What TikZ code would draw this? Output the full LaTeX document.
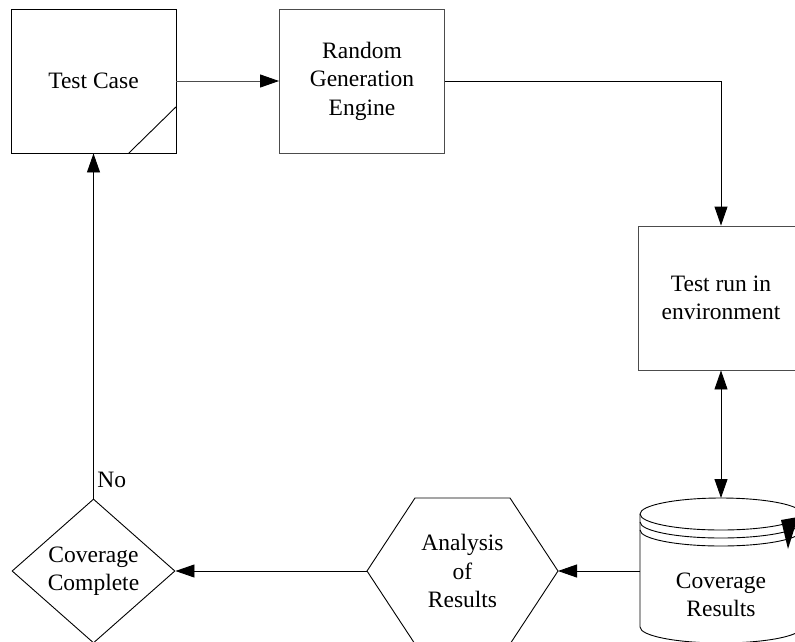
\documentclass[tikz,border=0pt]{standalone}
\usepackage{fontspec}
\setmainfont{Liberation Serif}
\usetikzlibrary{positioning,arrows.meta,shapes.geometric}

\begin{document}
\begin{tikzpicture}[x=1pt,y=-1pt,line width=0.9pt,
    font=\fontsize{23.5}{28.5}\selectfont,
    >={Triangle[length=19pt,width=13pt,color=black]},
    blockbox/.style={draw,minimum width=165pt,minimum height=144pt,
      inner sep=0pt,align=center},
    decision/.style={draw,diamond,aspect=1.13,minimum width=163pt,
      minimum height=144pt,inner sep=0pt,align=center}]
          \useasboundingbox (0,0) rectangle (795,641);
          \clip (0,0) rectangle (795,641);

          \draw (93.5,81) node[blockbox] (tc) {Test Case};
          \draw ([xshift=-48pt]tc.south east) -- ([yshift=47pt]tc.south east);

          \draw (362,81) node[blockbox,draw=black!70] (rge)
          {Random\\Generation\\Engine};

          \draw (721,298) node[blockbox,draw=black!70] (trn)
          {Test run in\\environment};

          % stacked disk
          \draw (721,514) ellipse [x radius=81pt,y radius=16pt];
          \draw (640,514) -- (640,627) arc [start angle=180,end angle=360,
            x radius=81pt,y radius=16pt] -- (802,514);
          \draw (640,522) arc [start angle=180,end angle=360,
            x radius=81pt,y radius=16pt];
          \draw (640,530) arc [start angle=180,end angle=360,
            x radius=81pt,y radius=16pt];
          \fill (781,520) -- (798,517) -- (788,549) -- cycle;
          \draw (721,595) node[align=center] (cr) {Coverage\\Results};
          \coordinate (crtop) at (721,498);
          \coordinate (crw) at (640,571);

          % hexagon
          \draw (367,571) -- (415,498) -- (510,498) -- (558,571)
          -- (510,644) -- (415,644) -- cycle;
          \draw (462.5,571) node[align=center] (aor) {Analysis\\of\\Results};
          \coordinate (aorw) at (367,571);
          \coordinate (aore) at (558,571);

          \draw (93.5,571) node[decision] (cc) {Coverage\\Complete};

          \draw[->,draw=black!70] (tc.east) -- (rge.west);

          \draw[->] (rge.east) -| (trn.north);

          \draw[<->] (trn.south) -- (crtop);

          \draw[->] (crw) -- (aore);

          \draw[->] (aorw) -- (cc.east);

          \draw[->] (cc.north) to node[pos=0.055,right] {No}
          (tc.south);
        \end{tikzpicture}
\end{document}
